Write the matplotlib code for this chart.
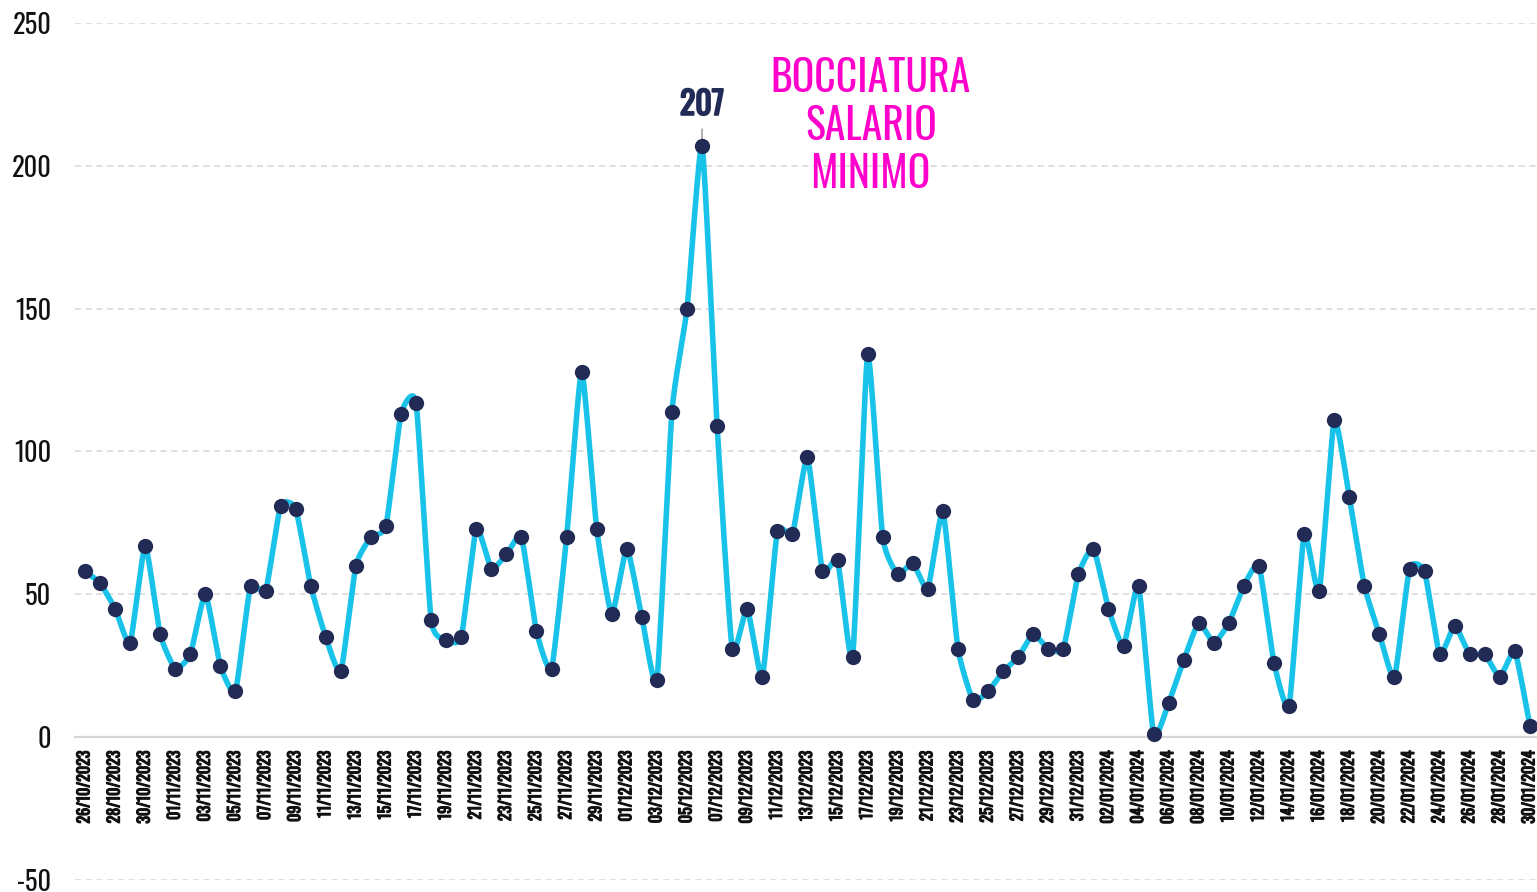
import numpy as np
import matplotlib
matplotlib.use("Agg")
import matplotlib.pyplot as plt
from matplotlib import font_manager as fm
from matplotlib import patheffects as pe
from datetime import date, timedelta

# Daily counts, 26/10/2023 .. 30/01/2024
start_day = date(2023, 10, 26)
values = [
    58, 54, 45, 33, 67, 36,                                  # Oct 26-31
    24, 29, 50, 25, 16, 53, 51, 81, 80, 53, 35, 23, 60, 70, 74,
    113, 117, 41, 34, 35, 73, 59, 64, 70, 37, 24, 70, 128, 73, 43,  # Nov
    66, 42, 20, 114, 150, 207, 109, 31, 45, 21, 72, 71, 98, 58, 62,
    28, 134, 70, 57, 61, 52, 79, 31, 13, 16, 23, 28, 36, 31, 31, 57,  # Dec
    66, 45, 32, 53, 1, 12, 27, 40, 33, 40, 53, 60, 26, 11, 71,
    51, 111, 84, 53, 36, 21, 59, 58, 29, 39, 29, 29, 21, 30, 4,      # Jan
]
dates = [start_day + timedelta(days=i) for i in range(len(values))]
date_labels = [d.strftime("%d/%m/%Y") for d in dates]

y_ticks = [-50, 0, 50, 100, 150, 200, 250]
peak_label = "207"
event_text = "BOCCIATURA\nSALARIO\nMINIMO"

LINE_COLOR = "#18C2E8"
DOT_COLOR = "#222B55"
EVENT_COLOR = "#FF00CC"
GRID_COLOR = "#D6D6D6"
TEXT_COLOR = "#111111"


def condensed_font():
    entries = fm.fontManager.ttflist
    names = {f.name for f in entries}
    for cand in ["Oswald", "Roboto Condensed", "Noto Sans Condensed",
                 "Open Sans Condensed", "Liberation Sans Narrow", "Arial Narrow"]:
        if cand in names:
            return dict(family=cand)
    for f in entries:
        if f.name == "DejaVu Sans" and str(f.stretch) in ("condensed", "semi-condensed"):
            return dict(family="DejaVu Sans", stretch="condensed")
    return dict(family="DejaVu Sans")


FONT = condensed_font()


def heavy(color, width):
    # thicken glyphs with an outline of the same colour
    return [pe.withStroke(linewidth=width, foreground=color)]


def smooth_curve(x, y, tension=0.5, steps=24):
    """Smooth curve through every point (cardinal spline)."""
    x = np.asarray(x, float)
    y = np.asarray(y, float)
    px = np.concatenate([[2 * x[0] - x[1]], x, [2 * x[-1] - x[-2]]])
    py = np.concatenate([[2 * y[0] - y[1]], y, [2 * y[-1] - y[-2]]])
    t = np.linspace(0, 1, steps, endpoint=False)
    h00 = 2 * t ** 3 - 3 * t ** 2 + 1
    h10 = t ** 3 - 2 * t ** 2 + t
    h01 = -2 * t ** 3 + 3 * t ** 2
    h11 = t ** 3 - t ** 2
    xs, ys = [], []
    for i in range(1, len(px) - 2):
        for arr, out in ((px, xs), (py, ys)):
            m1 = tension * 0.5 * (arr[i + 1] - arr[i - 1])
            m2 = tension * 0.5 * (arr[i + 2] - arr[i])
            out.append(h00 * arr[i] + h10 * m1 + h01 * arr[i + 1] + h11 * m2)
    xs.append([x[-1]])
    ys.append([y[-1]])
    return np.concatenate(xs), np.concatenate(ys)


fig = plt.figure(figsize=(15.37, 8.92), dpi=100)
ax = fig.add_axes([75 / 1537, 12 / 892, 1 - 75 / 1537, 857 / 892])

xpos = np.arange(len(values))
sx, sy = smooth_curve(xpos, values)
ax.plot(sx, sy, color=LINE_COLOR, lw=4.0, solid_capstyle="round",
        solid_joinstyle="round", zorder=3)
ax.plot(xpos, values, "o", color=DOT_COLOR, ms=11, mec="none", zorder=4)

ax.set_xlim(-0.66, 96.47)
ax.set_ylim(-50, 250)

# horizontal grid
for yv in y_ticks:
    if yv != 0:
        ax.axhline(yv, color=GRID_COLOR, lw=1.1, ls=(0, (4, 3)), zorder=1)

for s in ("top", "right", "left"):
    ax.spines[s].set_visible(False)
ax.spines["bottom"].set_position(("data", 0))
ax.spines["bottom"].set_color(GRID_COLOR)
ax.spines["bottom"].set_linewidth(1.6)
ax.spines["bottom"].set_zorder(2)

ax.set_yticks(y_ticks)
ax.set_yticklabels([str(v) for v in y_ticks], fontsize=19, color=TEXT_COLOR, **FONT)
ax.tick_params(axis="y", length=0, pad=17)

ax.set_xticks(xpos[::2])
ax.set_xticklabels(date_labels[::2], rotation=90, fontsize=11.5,
                   fontweight="bold", color=TEXT_COLOR, **FONT)
for lab in ax.get_xticklabels():
    lab.set_path_effects(heavy(TEXT_COLOR, 0.9))
ax.tick_params(axis="x", length=0, pad=10)

# peak annotation
peak_i = int(np.argmax(values))
ann = ax.annotate(peak_label, xy=(peak_i, values[peak_i]), xytext=(0, 18),
                  textcoords="offset points", ha="center", va="bottom",
                  fontsize=23, fontweight="bold", color=DOT_COLOR, **FONT,
                  arrowprops=dict(arrowstyle="-", color="#A0A0A0", lw=1.2,
                                  shrinkA=4, shrinkB=5))
ann.set_path_effects(heavy(DOT_COLOR, 1.4))

ax.text(peak_i + 11.2, 238.0, event_text, ha="center", va="top",
        fontsize=30, color=EVENT_COLOR, linespacing=1.14, **FONT)

fig.savefig("out.png", dpi=100)
